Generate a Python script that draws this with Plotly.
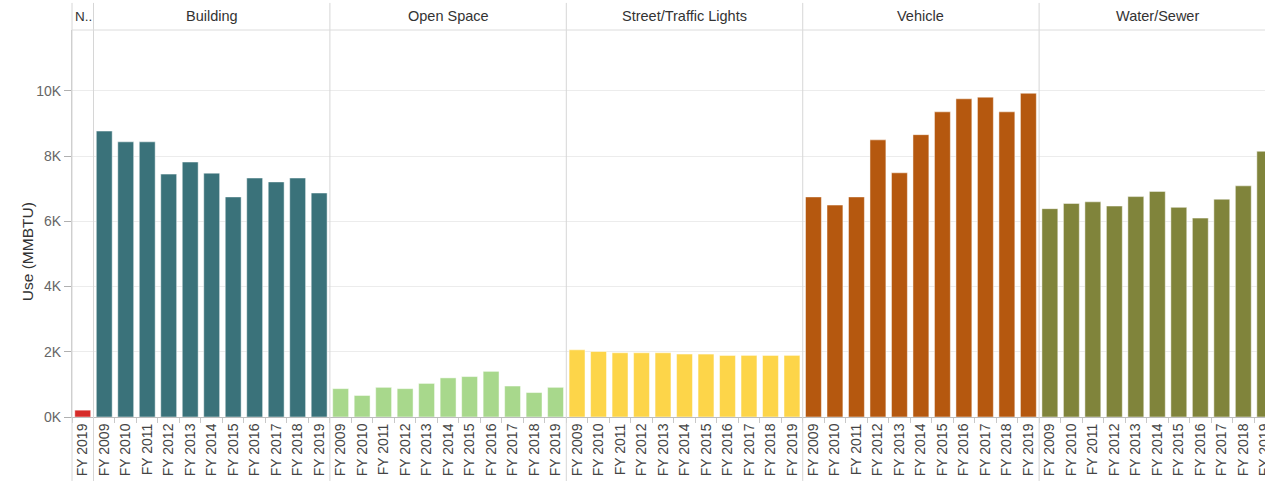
import plotly.graph_objects as go

# ---------------- data ----------------
groups = ["N..", "Building", "Open Space", "Street/Traffic Lights", "Vehicle", "Water/Sewer"]
years_n = ["FY 2019"]
years = ["FY 2009", "FY 2010", "FY 2011", "FY 2012", "FY 2013", "FY 2014",
         "FY 2015", "FY 2016", "FY 2017", "FY 2018", "FY 2019"]

n_vals = [210]
building = [8770, 8440, 8440, 7450, 7820, 7480, 6750, 7330, 7210, 7330, 6870]
open_space = [870, 660, 910, 870, 1030, 1200, 1240, 1400, 950, 750, 910]
street = [2060, 2010, 1970, 1970, 1970, 1930, 1930, 1890, 1890, 1890, 1890]
vehicle = [6750, 6500, 6750, 8500, 7490, 8660, 9360, 9760, 9810, 9360, 9930]
water = [6390, 6550, 6600, 6470, 6760, 6920, 6430, 6100, 6680, 7090, 8150]

colors = ["#d62a28", "#3a727a", "#a8d88c", "#fdd549", "#b5580f", "#80843b"]

y_tickvals = [0, 2000, 4000, 6000, 8000, 10000]
y_ticktext = ["0K", "2K", "4K", "6K", "8K", "10K"]
y_title = "Use (MMBTU)"

series = [(groups[0], years_n, n_vals)] + [
    (g, years, v) for g, v in zip(groups[1:], [building, open_space, street, vehicle, water])
]

FONT = "Liberation Sans, Arial, sans-serif"

# ---------------- figure ----------------
fig = go.Figure()
tickvals, ticktext = [], []
boundaries = []
idx = 0
centers = []
for (g, yrs, vals), col in zip(series, colors):
    xs = list(range(idx, idx + len(vals)))
    fig.add_trace(go.Bar(
        x=xs, y=vals, name=g, marker=dict(color=col, line=dict(color="rgba(255,255,255,0.6)", width=0.8)),
        showlegend=False, hovertext=[f"{g} {y}" for y in yrs],
    ))
    tickvals += xs
    ticktext += yrs
    centers.append((idx - 0.5 + idx + len(vals) - 0.5) / 2)
    idx += len(vals)
    boundaries.append(idx - 0.5)

x_max = 55.01
shapes = []
for b in boundaries[:-1]:
    shapes.append(dict(type="line", xref="x", yref="paper", x0=b, x1=b, y0=-0.17, y1=1.07,
                       line=dict(color="#d6d6d6", width=1)))
shapes.append(dict(type="line", xref="paper", yref="paper", x0=0, x1=0, y0=-0.17, y1=1.07,
                   line=dict(color="#d6d6d6", width=1)))
shapes.append(dict(type="line", xref="paper", yref="paper", x0=0, x1=1, y0=1.0, y1=1.0,
                   line=dict(color="#dcdcdc", width=1)))

annotations = []
for g, c in zip(groups, centers):
    if g == "N..":
        annotations.append(dict(x=-0.47, y=1.035, xref="x", yref="paper", text=g, showarrow=False,
                                xanchor="left", yanchor="middle",
                                font=dict(family=FONT, size=13.5, color="#333333")))
    else:
        annotations.append(dict(x=c, y=1.035, xref="x", yref="paper", text=g, showarrow=False,
                                xanchor="center", yanchor="middle",
                                font=dict(family=FONT, size=14.5, color="#333333")))
annotations.append(dict(x=-0.0377, y=0.426, xref="paper", yref="paper", text=y_title,
                        showarrow=False, textangle=-90, xanchor="center", yanchor="middle",
                        font=dict(family=FONT, size=15.5, color="#333333")))

fig.update_layout(
    width=1265, height=481,
    margin=dict(l=72, r=0, t=30, b=64),
    paper_bgcolor="white", plot_bgcolor="white",
    bargap=0.26,
    shapes=shapes, annotations=annotations,
    font=dict(family=FONT, size=13, color="#333333"),
)
fig.update_xaxes(
    range=[-0.5, x_max], tickmode="array", tickvals=tickvals, ticktext=ticktext,
    tickangle=-90, ticks="", showgrid=False, zeroline=False, automargin=False,
    showline=True, linecolor="#bdbdbd", linewidth=1,
    tickfont=dict(size=14, color="#444444"), ticklabeloverflow="allow",
    minor=dict(tickmode="linear", tick0=-0.5, dtick=1, ticks="outside", ticklen=5,
               tickcolor="#c8c8c8", showgrid=False),
)
fig.update_yaxes(
    range=[0, 11870], tickmode="array", tickvals=y_tickvals, ticktext=y_ticktext,
    ticks="outside", ticklen=7, tickcolor="#b0b0b0", automargin=False,
    showgrid=True, gridcolor="#ececec", zeroline=False,
    showline=True, linecolor="#c8c8c8", linewidth=1,
    tickfont=dict(size=14, color="#666666"),
)

fig.write_html("out.html", config={"displayModeBar": False},
               post_script="document.body.style.margin='0px';")
